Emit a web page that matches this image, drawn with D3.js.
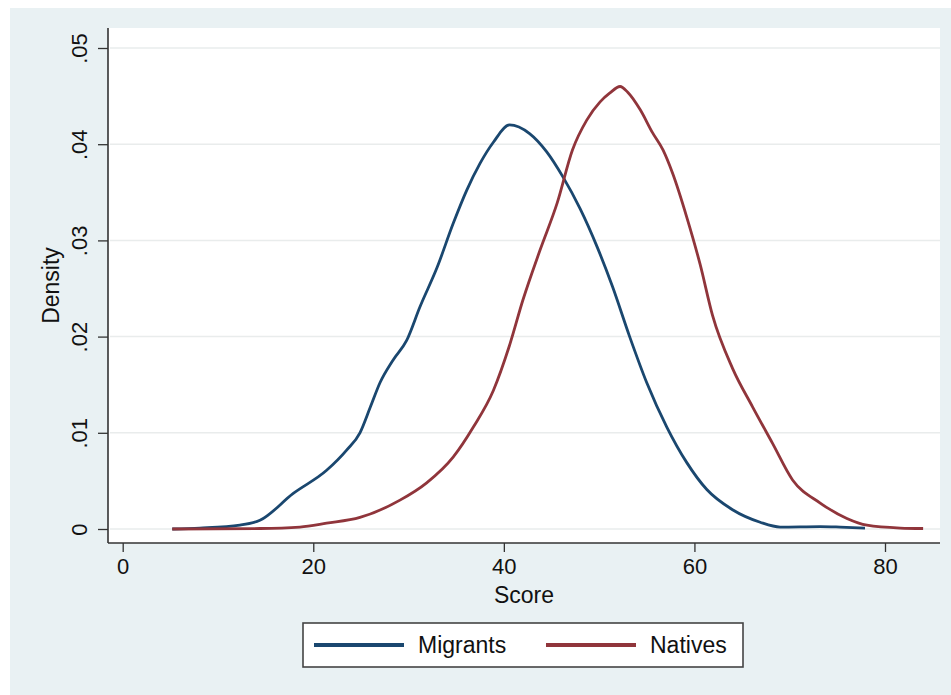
<!DOCTYPE html>
<html>
<head>
<meta charset="utf-8">
<script src="https://cdn.jsdelivr.net/npm/d3@7"></script>
<style>
  body { margin: 0; background: #fff; }
  text { font-family: "Liberation Sans", Arial, sans-serif; fill: #111; }
</style>
</head>
<body>
<svg id="chart" width="951" height="695"></svg>
<script>
var width = 951, height = 695

// kernel density estimates
var migScore = [5.2, 8.1, 12.3, 14.4, 17.9, 21.4, 23.5, 24.9, 26.0, 27.0, 28.4, 29.8, 31.2, 33.0, 34.7, 36.1, 37.5, 38.9, 40.6,
  42.7, 44.5, 46.2, 48.0, 49.8, 51.4, 53.2, 55.0, 57.1, 59.2, 61.3, 64.0, 66.9, 69.0, 73.2, 75.3, 77.9]
var migDensity = [0, 0.0001, 0.0004, 0.0009, 0.0037, 0.0061, 0.0082, 0.0100, 0.0127, 0.0152, 0.0176, 0.0196, 0.0231, 0.0272, 0.0318, 0.0352, 0.0380, 0.0402, 0.0420,
  0.0411, 0.0392, 0.0366, 0.0333, 0.0293, 0.0252, 0.0200, 0.0152, 0.0106, 0.0069, 0.0041, 0.0020, 0.0007, 0.0002, 0.00025, 0.0002, 0.0001]

var natScore = [5.2, 14.4, 18.6, 21.4, 24.9, 29.1, 31.9, 34.7, 36.8, 38.9, 40.6, 42.0, 43.8, 45.6, 47.2, 48.7, 50.1, 51.1, 52.2,
  53.0, 54.3, 55.6, 56.7, 57.7, 59.2, 60.6, 61.9, 64.0, 66.1, 68.2, 70.3, 73.2, 76.0, 78.1, 81.6, 84.0]
var natDensity = [0, 0.00005, 0.0002, 0.0006, 0.0012, 0.0030, 0.0048, 0.0075, 0.0106, 0.0144, 0.0191, 0.0238, 0.0290, 0.0339, 0.0394, 0.0425, 0.0444, 0.0453, 0.0460,
  0.0454, 0.0436, 0.0412, 0.0394, 0.0370, 0.0324, 0.0275, 0.0222, 0.0167, 0.0127, 0.0089, 0.0051, 0.0027, 0.0011, 0.0004, 0.0001, 0.00005]

var xTicks = [0, 20, 40, 60, 80]
var yTicks = [0, 0.01, 0.02, 0.03, 0.04, 0.05]
var yTickLabels = ['0', '.01', '.02', '.03', '.04', '.05']

var seriesNames = ['Migrants', 'Natives']
var seriesColors = ['#1a476f', '#90353b']

var series = [
  migScore.map(function(s, i) { return {x: s, y: migDensity[i]} }),
  natScore.map(function(s, i) { return {x: s, y: natDensity[i]} })
]

// plot region box
var plot = {left: 108, right: 940, top: 28, bottom: 543}

var x = d3.scaleLinear().domain([0, 80]).range([122.7, 885])
var y = d3.scaleLinear().domain([0, 0.05]).range([529, 48])

var svg = d3.select('#chart')

// graph region background
svg.append('rect')
  .attr('x', 10).attr('y', 8)
  .attr('width', width - 10).attr('height', height - 8)
  .attr('fill', '#e9f1f3')

svg.append('rect')
  .attr('x', plot.left).attr('y', plot.top)
  .attr('width', plot.right - plot.left).attr('height', plot.bottom - plot.top)
  .attr('fill', '#fff')

// gridlines
svg.append('g')
  .selectAll('line')
  .data(yTicks)
  .enter().append('line')
  .attr('x1', plot.left + 2).attr('x2', plot.right)
  .attr('y1', function(d) { return y(d) })
  .attr('y2', function(d) { return y(d) })
  .attr('stroke', '#e9ecec')
  .attr('stroke-width', 1.5)

// curves
var line = d3.line()
  .x(function(d) { return x(d.x) })
  .y(function(d) { return y(d.y) })
  .curve(d3.curveMonotoneX)

svg.append('g')
  .selectAll('path')
  .data(series)
  .enter().append('path')
  .attr('d', line)
  .attr('fill', 'none')
  .attr('stroke', function(d, i) { return seriesColors[i] })
  .attr('stroke-width', 2.8)
  .attr('stroke-linejoin', 'round')

// x axis
var xAxis = svg.append('g')
  .attr('transform', 'translate(0,' + plot.bottom + ')')
  .call(d3.axisBottom(x).tickValues(xTicks).tickSize(9).tickPadding(6).tickFormat(d3.format('d')))
xAxis.select('.domain').remove()
xAxis.selectAll('.tick line').attr('stroke', '#333').attr('stroke-width', 1.3)
xAxis.selectAll('.tick text')
  .attr('font-size', '22px')
  .attr('font-family', '"Liberation Sans", Arial, sans-serif')
  .attr('fill', '#111')

svg.append('line')
  .attr('x1', plot.left).attr('x2', plot.right)
  .attr('y1', plot.bottom).attr('y2', plot.bottom)
  .attr('stroke', '#333').attr('stroke-width', 1.6)

// y axis
var yAxis = svg.append('g')
  .attr('transform', 'translate(' + plot.left + ',0)')
  .call(d3.axisLeft(y).tickValues(yTicks).tickSize(10).tickFormat(function(d, i) { return yTickLabels[i] }))
yAxis.select('.domain').remove()
yAxis.selectAll('.tick line').attr('stroke', '#333').attr('stroke-width', 1.3)
yAxis.selectAll('.tick text')
  .attr('font-size', '22px')
  .attr('font-family', '"Liberation Sans", Arial, sans-serif')
  .attr('fill', '#111')
  .attr('text-anchor', 'middle')
  .attr('x', null).attr('dy', null)
  .attr('transform', 'translate(-21,0) rotate(-90)')

svg.append('line')
  .attr('x1', plot.left).attr('x2', plot.left)
  .attr('y1', plot.top).attr('y2', plot.bottom)
  .attr('stroke', '#333').attr('stroke-width', 1.6)

// axis titles
svg.append('text')
  .attr('x', (plot.left + plot.right) / 2).attr('y', 603)
  .attr('text-anchor', 'middle')
  .style('font-size', '23px')
  .text('Score')

svg.append('text')
  .attr('transform', 'translate(59,' + ((plot.top + plot.bottom) / 2) + ') rotate(-90)')
  .attr('text-anchor', 'middle')
  .style('font-size', '23px')
  .text('Density')

// legend
var legend = svg.append('g')
legend.append('rect')
  .attr('x', 303).attr('y', 623)
  .attr('width', 440).attr('height', 44)
  .attr('fill', '#fff')
  .attr('stroke', '#444').attr('stroke-width', 1.6)

var keyX = [314, 546]
seriesNames.forEach(function(name, i) {
  legend.append('line')
    .attr('x1', keyX[i]).attr('x2', keyX[i] + 90)
    .attr('y1', 645).attr('y2', 645)
    .attr('stroke', seriesColors[i])
    .attr('stroke-width', 4)
  legend.append('text')
    .attr('x', keyX[i] + 104).attr('y', 653)
    .style('font-size', '23px')
    .text(name)
})
</script>
</body>
</html>
